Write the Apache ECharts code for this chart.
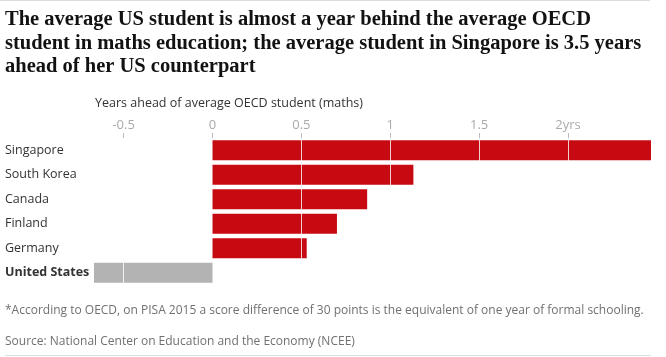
<!DOCTYPE html>
<html><head><meta charset="utf-8">
<script src="https://cdn.jsdelivr.net/npm/echarts@6/dist/echarts.min.js"></script>
<style>html,body{margin:0;padding:0;background:#fff}#c{width:666px;height:357px}</style>
</head><body><div id="c"></div>
<script>
const countries = ["Singapore", "South Korea", "Canada", "Finland", "Germany", "United States"];
const yearsAhead = [2.47, 1.13, 0.87, 0.70, 0.53, -0.67];
const tickValues = [-0.5, 0, 0.5, 1, 1.5, 2];
const tickLabels = ["-0.5", "0", "0.5", "1", "1.5", "2yrs"];
const gridValues = [-0.5, 0.5, 1, 1.5, 2];

const chart = echarts.init(document.getElementById('c'));
const sans = "Open Sans";
chart.setOption({
  animation: false,
  title: [{
    text: "The average US student is almost a year behind the average OECD\nstudent in maths education; the average student in Singapore is 3.5 years\nahead of her US counterpart",
    left: 5, top: 8, padding: 0,
    textStyle: {fontFamily: "Liberation Serif", fontWeight: "bold", fontSize: 20.5, lineHeight: 23.5, color: "#121212"}
  }, {
    text: "Years ahead of average OECD student (maths)",
    left: 95, top: 97, padding: 0,
    textStyle: {fontFamily: sans, fontWeight: "normal", fontSize: 12.5, color: "#333"}
  }, {
    text: "*According to OECD, on PISA 2015 a score difference of 30 points is the equivalent of one year of formal schooling.",
    left: 5, top: 305, padding: 0,
    textStyle: {fontFamily: sans, fontWeight: "normal", fontSize: 12, color: "#707070"}
  }, {
    text: "Source: National Center on Education and the Economy (NCEE)",
    left: 5, top: 336, padding: 0,
    textStyle: {fontFamily: sans, fontWeight: "normal", fontSize: 12, color: "#707070"}
  }],
  graphic: [
    {type: 'line', shape: {x1: 0, y1: 0.5, x2: 650, y2: 0.5}, style: {stroke: '#dcdcdc', lineWidth: 1}},
    {type: 'line', shape: {x1: 5, y1: 355.5, x2: 651, y2: 355.5}, style: {stroke: '#dcdcdc', lineWidth: 1}}
  ],
  grid: {left: 94, right: 15, top: 138, bottom: 72},
  xAxis: {
    type: 'value', position: 'top', min: -0.6667, max: 2.4667,
    axisLine: {show: false},
    axisTick: {show: true, length: 5, customValues: tickValues, lineStyle: {color: '#bbb'}},
    axisLabel: {customValues: tickValues, margin: 6, color: '#aaa', fontFamily: sans, fontSize: 13,
      formatter: v => { const i = tickValues.indexOf(v); return i >= 0 ? tickLabels[i] : ''; }},
    splitLine: {show: false}
  },
  yAxis: {
    type: 'category', data: countries, inverse: true,
    axisLine: {show: false}, axisTick: {show: false},
    axisLabel: {align: 'left', margin: 89, color: '#333', fontFamily: sans, fontSize: 12.5,
      formatter: v => v === "United States" ? '{b|' + v + '}' : v,
      rich: {b: {fontWeight: 'bold', fontFamily: sans, fontSize: 12.5, color: '#333'}}}
  },
  series: [{
    type: 'bar', barCategoryGap: '18%',
    data: yearsAhead.map((v, i) => ({value: v, itemStyle: {color: countries[i] === "United States" ? '#b3b3b3' : '#c70a12'}})),
    markLine: {
      silent: true, symbol: 'none', label: {show: false},
      lineStyle: {color: '#fff', type: 'solid', width: 1, opacity: 0.8},
      data: gridValues.map(v => ({xAxis: v}))
    }
  }]
});
</script></body></html>
